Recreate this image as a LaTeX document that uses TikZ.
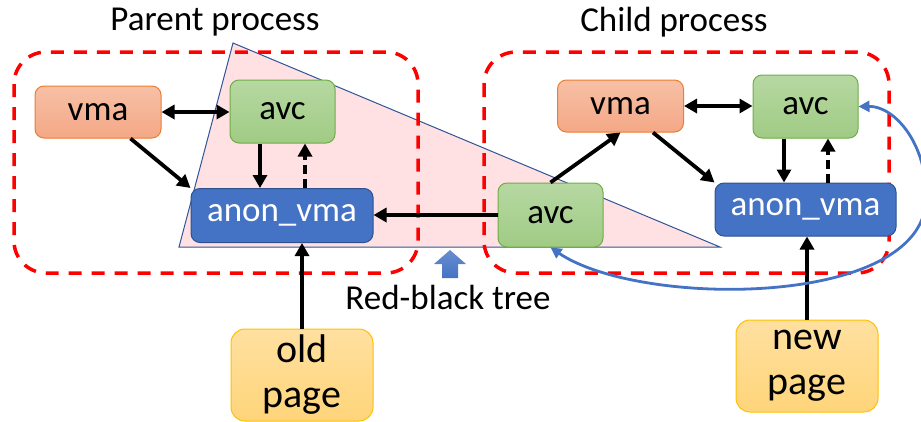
\documentclass[tikz,border=0pt]{standalone}
\usepackage{fontspec}
\setmainfont{Carlito}
\usetikzlibrary{arrows.meta}
\definecolor{orfill}{HTML}{F4A886}
\definecolor{orfillt}{HTML}{F7C0A6}
\definecolor{ordraw}{HTML}{ED7D31}
\definecolor{grfill}{HTML}{A0CB84}
\definecolor{grfillt}{HTML}{B6D8A2}
\definecolor{grdraw}{HTML}{70AD47}
\definecolor{blfill}{HTML}{4472C4}
\definecolor{bldraw}{HTML}{2F528F}
\definecolor{yefill}{HTML}{FFD57A}
\definecolor{yefillt}{HTML}{FFE0A0}
\definecolor{yedraw}{HTML}{FFC000}
\definecolor{trifill}{HTML}{FFE1E3}
\definecolor{tridraw}{HTML}{2F5597}
\definecolor{curve}{HTML}{4472C4}
\begin{document}
\begin{tikzpicture}[x=1pt,y=-1pt,
  every node/.style={font=\fontsize{35}{40}\selectfont, inner sep=0pt},
  boxbase/.style={rectangle, rounded corners=9pt, line width=1pt},
  vmabox/.style={boxbase, draw=ordraw, top color=orfillt, bottom color=orfill, minimum width=126pt, minimum height=52pt},
  avcbox/.style={boxbase, draw=grdraw, top color=grfillt, bottom color=grfill, minimum width=105pt, minimum height=63pt},
  anonbox/.style={boxbase, draw=bldraw, fill=blfill, text=white, minimum width=182pt, minimum height=54pt},
  pagebox/.style={boxbase, rounded corners=14pt, draw=yedraw, top color=yefillt, bottom color=yefill, minimum width=142pt, minimum height=92pt, align=center, font=\fontsize{40}{45}\selectfont},
  procbox/.style={draw=red, line width=3.5pt, dash pattern=on 13pt off 10pt, rounded corners=32pt},
  conn/.style={line width=3.8pt, -{Triangle[length=13pt,width=14pt]}},
  biconn/.style={line width=3.8pt, {Triangle[length=13pt,width=14pt]}-{Triangle[length=13pt,width=14pt]}},
  dconn/.style={conn, dash pattern=on 9pt off 5pt},
]
\useasboundingbox (0,0) rectangle (921,421);

% red-black tree triangle
\draw[fill=trifill, draw=tridraw, line width=1pt] (233,43) -- (179,247) -- (720,247) -- cycle;

% titles
\node (ptitle) at (215,22) {Parent process};
\node (ctitle) at (674,22) {Child process};

% process boxes
\draw[procbox] (14,52) rectangle (418,273);
\draw[procbox] (484,52) rectangle (889,273);

% nodes
\node[vmabox] (vmaL) at (98,112) {vma};
\node[avcbox] (avcL) at (282.5,111.5) {avc};
\node[anonbox] (anonL) at (282,215.5) {anon\_vma};
\node[avcbox, minimum height=64pt] (avcM) at (550.5,215) {avc};
\node[vmabox] (vmaC) at (620.5,106) {vma};
\node[avcbox] (avcC) at (805.5,106.5) {avc};
\node[anonbox, minimum width=181pt, minimum height=53pt] (anonC) at (805.5,209.5) {anon\_vma};
\node[pagebox] (oldp) at (302,375) {old\\page};
\node[pagebox] (newp) at (807,366) {new\\page};

% red-black tree label and block arrow
\node (rbt) at (448,297) {Red-black tree};
\shade[top color=curve!80, bottom color=curve, draw=none]
  (450,250) -- (466,264) -- (458,264) -- (458,278) -- (442,278) -- (442,264) -- (434,264) -- cycle;

% parent connectors
\draw[biconn] (vmaL.east) -- (avcL.west |- vmaL.east);
\draw[conn] ([xshift=-31pt]vmaL.south east) -- (anonL.north west);
\draw[conn] ([xshift=-22.5pt]avcL.south) -- ([xshift=-22.5pt]avcL.south |- anonL.north);
\draw[dconn] ([xshift=22.5pt]avcL.south |- anonL.north) -- ([xshift=22.5pt]avcL.south);
\draw[conn] (oldp.north) -- (oldp.north |- anonL.south);

% child connectors
\draw[conn] (avcM.west) -- (anonL.east |- avcM.west);
\draw[conn] (avcM.north) -- (vmaC.south);
\draw[biconn] (vmaC.east) -- (avcC.west |- vmaC.east);
\draw[conn] ([xshift=-31pt]vmaC.south east) -- (anonC.north west);
\draw[conn] ([xshift=-21.5pt]avcC.south) -- ([xshift=-21.5pt]avcC.south |- anonC.north);
\draw[dconn] ([xshift=22.5pt]avcC.south |- anonC.north) -- ([xshift=22.5pt]avcC.south);
\draw[conn] (newp.north) -- (newp.north |- anonC.south);

% blue curve
\coordinate (bend) at (926,200);
\draw[curve, line width=2.8pt, {Triangle[length=11pt,width=11pt]}-{Triangle[length=11pt,width=11pt]}]
  (avcC.east) .. controls (895,106) and (928,145) .. (bend)
  .. controls (922,308) and (640,308) .. (avcM.south);
\end{tikzpicture}
\end{document}
